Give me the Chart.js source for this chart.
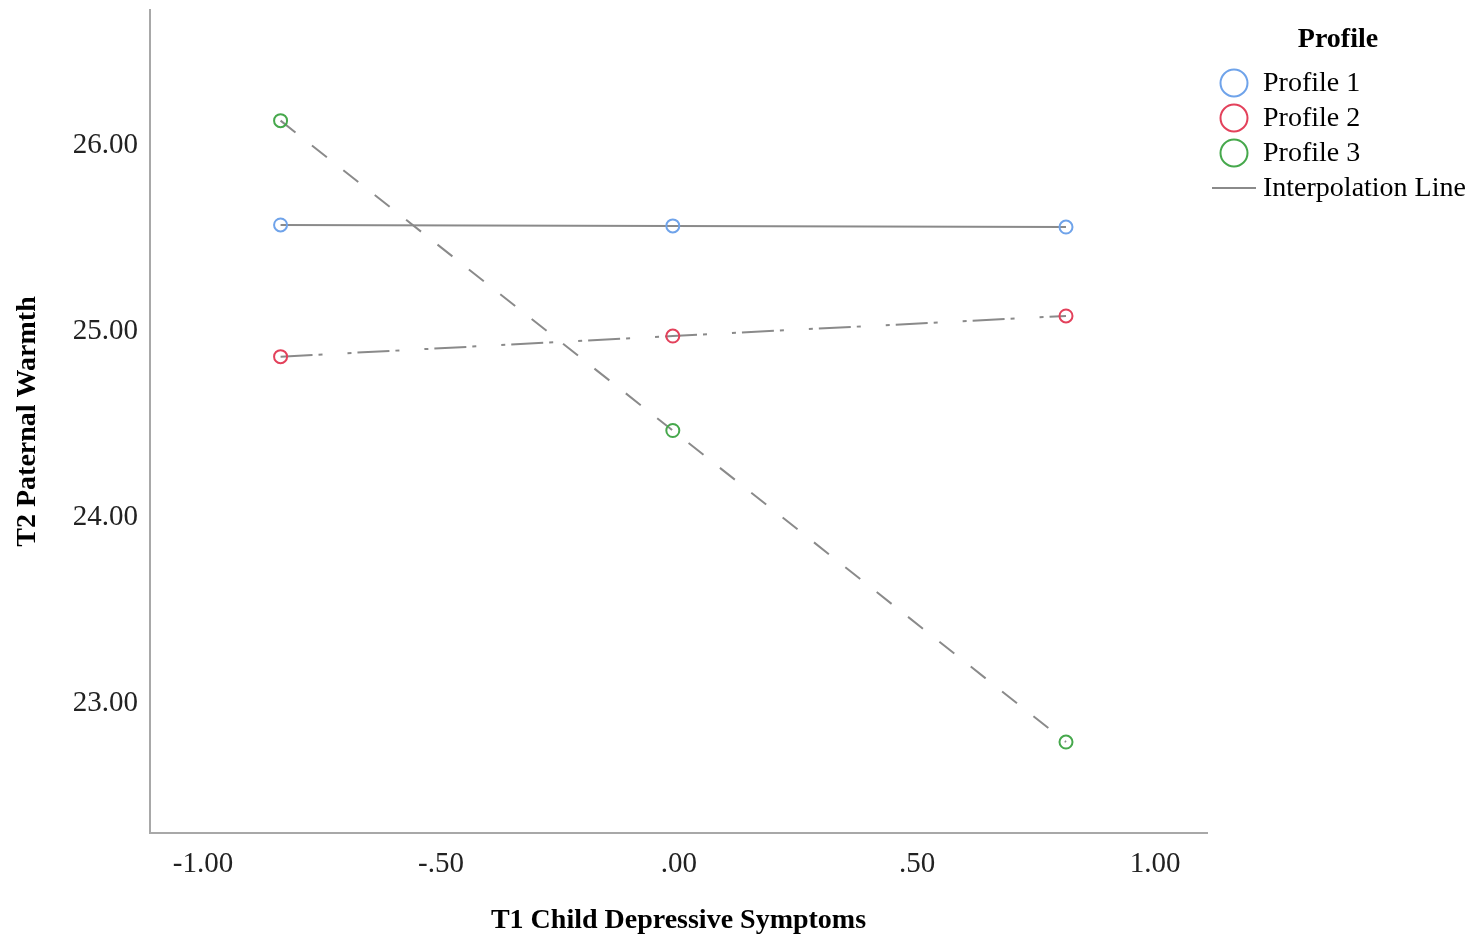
<!DOCTYPE html>
<html>
<head>
<meta charset="utf-8">
<script src="https://cdn.jsdelivr.net/npm/chart.js@4.4.1/dist/chart.umd.min.js"></script>
<style>
html,body{margin:0;padding:0;background:#fff;}
#wrap{position:relative;width:1476px;height:938px;}
</style>
</head>
<body>
<div id="wrap"><canvas id="c" width="1476" height="938"></canvas></div>
<script>
// ---- data ----
const xValues = [-0.837, -0.013, 0.813];              // T1 Child Depressive Symptoms
const profile1 = [25.570, 25.565, 25.559];
const profile2 = [24.862, 24.973, 25.081];
const profile3 = [26.131, 24.465, 22.790];
const seriesNames = ['Profile 1', 'Profile 2', 'Profile 3'];
const xTickValues = [-1, -0.5, 0, 0.5, 1];
const yTickValues = [23, 24, 25, 26];
const legendTitle = 'Profile';
const legendExtra = 'Interpolation Line';
const xTitle = 'T1 Child Depressive Symptoms';
const yTitle = 'T2 Paternal Warmth';

// ---- styles ----
const markerColors = ['#6fa3ea', '#e3415b', '#46a84c'];
const lineColor = '#8a8a8a';
const dashes = [[], [32, 6, 4, 25, 4, 6], [19, 21]];
const serif = '"Liberation Serif","Times New Roman",serif';

function fmt(v) {
  let s = Math.abs(v).toFixed(2);
  if (s.startsWith('0')) s = s.slice(1);
  return (v < 0 ? '-' : '') + s;
}

const allSeries = [profile1, profile2, profile3];
const datasets = allSeries.map((vals, i) => ({
  label: seriesNames[i],
  data: xValues.map((x, j) => ({x: x, y: vals[j]})),
  borderColor: lineColor,
  borderWidth: 2,
  borderDash: dashes[i],
  pointStyle: 'circle',
  pointRadius: 6.5,
  pointBorderWidth: 2,
  pointBackgroundColor: 'rgba(255,255,255,0)',
  pointBorderColor: markerColors[i],
  tension: 0,
  fill: false
}));

const legendPlugin = {
  id: 'spssLegend',
  afterDraw(chart) {
    const ctx = chart.ctx;
    ctx.save();
    ctx.fillStyle = '#000';
    ctx.textBaseline = 'middle';
    ctx.font = 'bold 28px ' + serif;
    ctx.textAlign = 'center';
    ctx.fillText(legendTitle, 1338, 40);
    ctx.font = '28px ' + serif;
    ctx.textAlign = 'left';
    const rows = [83, 118, 153];
    seriesNames.forEach((name, i) => {
      ctx.beginPath();
      ctx.arc(1234, rows[i], 13.5, 0, Math.PI * 2);
      ctx.lineWidth = 2;
      ctx.strokeStyle = markerColors[i];
      ctx.stroke();
      ctx.fillStyle = '#000';
      ctx.fillText(name, 1263, rows[i] + 1);
    });
    ctx.beginPath();
    ctx.moveTo(1212, 188);
    ctx.lineTo(1256, 188);
    ctx.lineWidth = 2;
    ctx.strokeStyle = lineColor;
    ctx.stroke();
    ctx.fillText(legendExtra, 1263, 189);
    ctx.restore();
  }
};

new Chart(document.getElementById('c'), {
  type: 'line',
  data: { datasets: datasets },
  plugins: [legendPlugin],
  options: {
    responsive: false,
    animation: false,
    devicePixelRatio: 1,
    layout: { padding: { left: 0, right: 269, top: 10, bottom: 0 } },
    plugins: { legend: { display: false }, tooltip: { enabled: false } },
    scales: {
      x: {
        type: 'linear',
        min: -1.1113,
        max: 1.1092,
        afterFit(s) { s.height = 105; s.paddingLeft = 0; s.paddingRight = 0; },
        afterBuildTicks(s) { s.ticks = xTickValues.map(v => ({value: v})); },
        grid: { display: false, drawTicks: false },
        border: { display: true, color: '#a8a8a8', width: 2 },
        ticks: {
          padding: 14,
          color: '#222',
          font: { family: serif, size: 29 },
          callback: v => fmt(v),
          maxRotation: 0,
          autoSkip: false
        },
        title: {
          display: true,
          text: xTitle,
          color: '#000',
          font: { family: serif, size: 28, weight: 'bold' },
          padding: { top: 0, bottom: 0 }
        }
      },
      y: {
        type: 'linear',
        min: 22.3011,
        max: 26.7258,
        afterFit(s) { s.width = 150; s.paddingTop = 0; s.paddingBottom = 0; },
        afterBuildTicks(s) { s.ticks = yTickValues.map(v => ({value: v})); },
        grid: { display: false, drawTicks: false },
        border: { display: true, color: '#a8a8a8', width: 2 },
        ticks: {
          padding: 12,
          color: '#222',
          font: { family: serif, size: 29 },
          callback: v => v.toFixed(2),
          autoSkip: false
        },
        title: {
          display: true,
          text: yTitle,
          color: '#000',
          font: { family: serif, size: 28, weight: 'bold' },
          padding: { top: 11, bottom: 0 }
        }
      }
    }
  }
});
</script>
</body>
</html>
